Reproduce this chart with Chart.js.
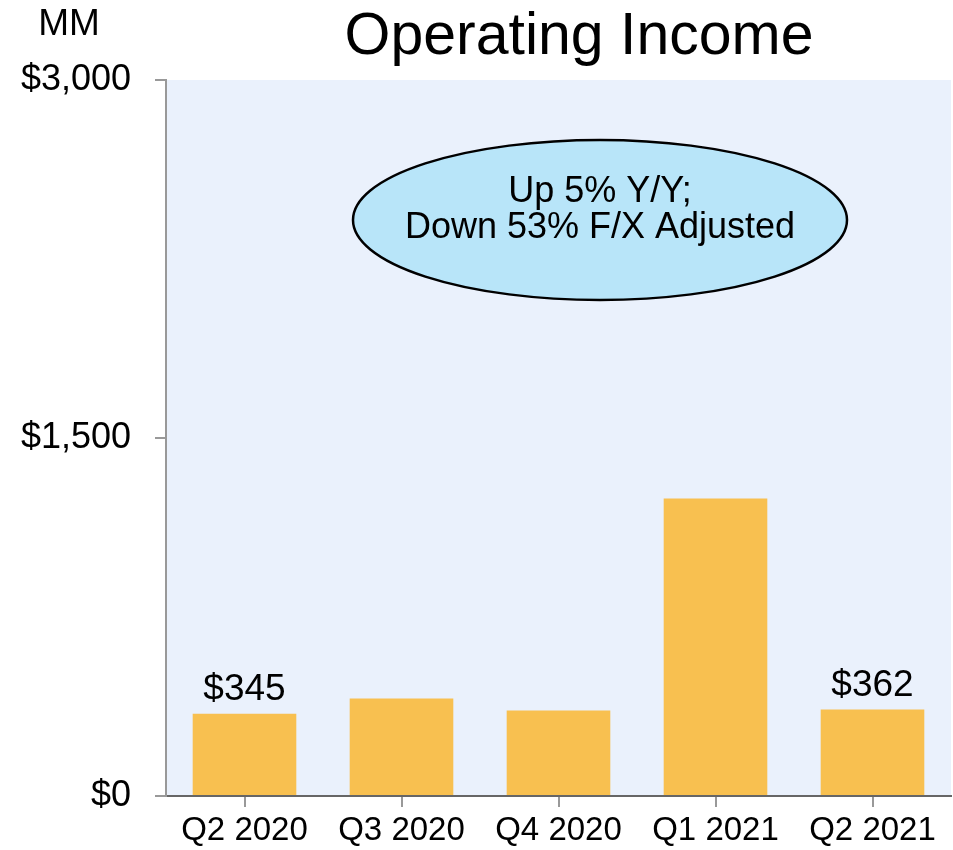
<!DOCTYPE html>
<html>
<head>
<meta charset="utf-8">
<script src="https://cdn.jsdelivr.net/npm/chart.js@4"></script>
<style>
html,body{margin:0;padding:0;background:#fff;}
#wrap{width:953px;height:850px;position:relative;}
</style>
</head>
<body>
<div id="wrap"><canvas id="c" width="953" height="850"></canvas></div>
<script>
const categories = ['Q2 2020', 'Q3 2020', 'Q4 2020', 'Q1 2021', 'Q2 2021'];
const operatingIncome = [345, 408, 358, 1246, 362];
const barLabels = ['$345', '', '', '', '$362'];
const yTicks = [0, 1500, 3000];
const titleText = 'Operating Income';
const unitText = 'MM';
const calloutLines = ['Up 5% Y/Y;', 'Down 53% F/X Adjusted'];

const FONT = '"Liberation Sans", Arial, Helvetica, sans-serif';

const decor = {
  id: 'decor',
  beforeDraw(chart) {
    const {ctx, chartArea: a} = chart;
    ctx.save();
    ctx.fillStyle = '#EAF1FC';
    ctx.fillRect(a.left, a.top, a.right - a.left, a.bottom - a.top);
    ctx.restore();
  },
  afterDraw(chart) {
    const {ctx, chartArea: a} = chart;
    ctx.save();
    ctx.fillStyle = '#000';
    ctx.font = '59px ' + FONT;
    ctx.textAlign = 'center';
    ctx.textBaseline = 'alphabetic';
    ctx.fillText(titleText, 579, 54);
    ctx.font = '37px ' + FONT;
    ctx.fillText(unitText, 69, 35);
    const meta = chart.getDatasetMeta(0);
    ctx.font = '37px ' + FONT;
    meta.data.forEach((bar, i) => {
      if (barLabels[i]) ctx.fillText(barLabels[i], bar.x, bar.y - 14);
    });
    const cx = 600, cy = 220;
    ctx.beginPath();
    ctx.ellipse(cx, cy, 247, 80, 0, 0, Math.PI * 2);
    ctx.fillStyle = '#B8E5F9';
    ctx.fill();
    ctx.lineWidth = 2.5;
    ctx.strokeStyle = '#000';
    ctx.stroke();
    ctx.fillStyle = '#000';
    ctx.font = '36px ' + FONT;
    ctx.fillText(calloutLines[0], cx, 202);
    ctx.fillText(calloutLines[1], cx, 238);
    ctx.restore();
  }
};

new Chart(document.getElementById('c'), {
  type: 'bar',
  data: {
    labels: categories,
    datasets: [{
      data: operatingIncome,
      backgroundColor: '#F8C050',
      borderWidth: 0,
      categoryPercentage: 0.66,
      barPercentage: 1.0
    }]
  },
  options: {
    responsive: false,
    animation: false,
    devicePixelRatio: 1,
    layout: { padding: { top: 80, right: 2, left: 0, bottom: 0 } },
    plugins: { legend: { display: false }, tooltip: { enabled: false }, title: { display: false } },
    scales: {
      x: {
        grid: { offset: false, drawOnChartArea: false, drawTicks: true, tickLength: 11, color: '#999', lineWidth: 2 },
        border: { color: '#666', width: 2 },
        ticks: { color: '#000', font: { family: FONT, size: 33 }, padding: 4, maxRotation: 0 },
        afterFit(s) { s.height = 54; }
      },
      y: {
        min: 0, max: 3000,
        afterBuildTicks(s) { s.ticks = yTicks.map(v => ({ value: v })); },
        grid: { drawOnChartArea: false, drawTicks: true, tickLength: 11, color: '#999', lineWidth: 2 },
        border: { color: '#999', width: 2 },
        ticks: {
          color: '#000', font: { family: FONT, size: 36 }, padding: 24,
          callback: v => '$' + v.toLocaleString('en-US')
        },
        afterFit(s) { s.width = 166; }
      }
    }
  },
  plugins: [decor]
});
</script>
</body>
</html>
